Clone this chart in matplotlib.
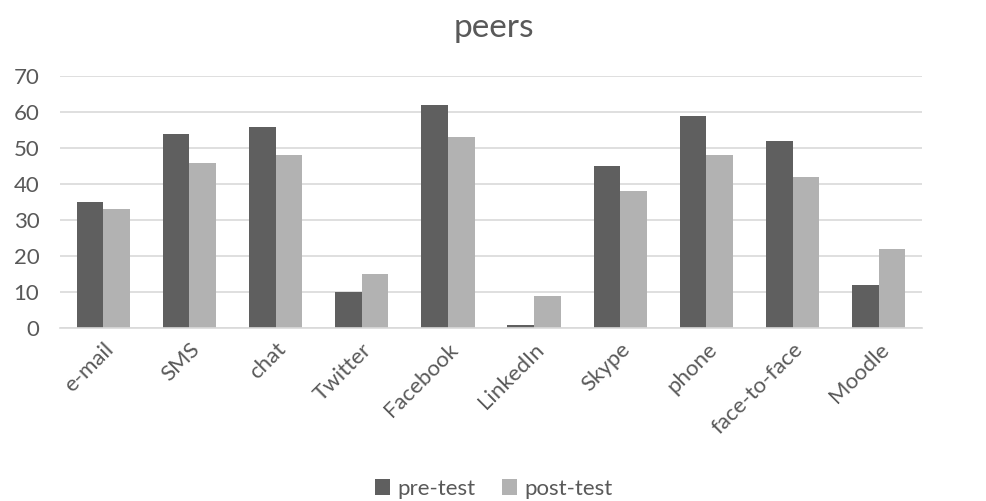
import matplotlib
matplotlib.use("Agg")
import matplotlib.pyplot as plt
import numpy as np

categories = ["e-mail", "SMS", "chat", "Twitter", "Facebook", "LinkedIn",
              "Skype", "phone", "face-to-face", "Moodle"]
pre_test = [35, 54, 56, 10, 62, 1, 45, 59, 52, 12]
post_test = [33, 46, 48, 15, 53, 9, 38, 48, 42, 22]

plt.rcParams['font.family'] = ['Lato', 'DejaVu Sans']
text_color = '#595959'

fig = plt.figure(figsize=(9.87, 5.01), dpi=100)
ax = fig.add_axes([0.061, 0.345, 0.873, 0.503])

x = np.arange(len(categories))
w = 0.31
ax.bar(x - w/2, pre_test, w, color='#5f5f5f', label='pre-test')
ax.bar(x + w/2, post_test, w, color='#b2b2b2', label='post-test')

ax.set_xlim(-0.5, len(categories) - 0.5)
ax.set_ylim(0, 70)
ax.set_yticks(range(0, 71, 10))
ax.yaxis.grid(True, color='#d9d9d9', linewidth=1.2)
ax.set_axisbelow(True)
for s in ['top', 'right', 'left']:
    ax.spines[s].set_visible(False)
ax.spines['bottom'].set_color('#d9d9d9')
ax.spines['bottom'].set_linewidth(1.2)
ax.tick_params(axis='y', length=0, labelsize=16, colors=text_color, pad=15)
ax.tick_params(axis='x', length=0, labelsize=16, colors=text_color, pad=8)
ax.set_xticks(x)
ax.set_xticklabels(categories, rotation=45, ha='right', rotation_mode='anchor')

fig.suptitle('peers', y=0.975, fontsize=24, color=text_color)

fig.legend(loc='lower center', ncol=2, frameon=False, fontsize=16,
           bbox_to_anchor=(0.5, -0.035), handlelength=0.7, handleheight=0.7,
           handletextpad=0.3, columnspacing=1.2, labelcolor=text_color)

fig.savefig('out.png', dpi=100)
